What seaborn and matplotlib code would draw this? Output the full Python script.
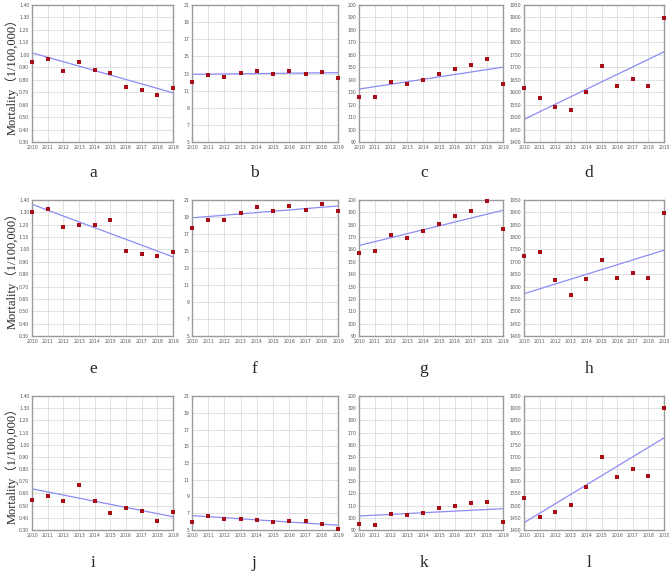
import numpy as np
import pandas as pd
import matplotlib
matplotlib.use("Agg")
import matplotlib.pyplot as plt
import seaborn as sns

years = list(range(2010, 2020))

mort_a = [0.94, 0.97, 0.87, 0.94, 0.88, 0.855, 0.74, 0.715, 0.675, 0.73]
mort_b = [12.0, 12.8, 12.6, 13.06, 13.3, 12.9, 13.25, 13.0, 13.2, 12.45]
mort_c = [126.1, 126.4, 137.8, 136.2, 139.9, 144.6, 148.8, 152.0, 156.5, 136.5]
mort_d = [1617, 1575, 1541, 1530, 1601, 1704, 1624, 1653, 1626, 1899]
mort_e = [1.303, 1.327, 1.178, 1.195, 1.195, 1.24, 0.986, 0.96, 0.95, 0.98]
mort_f = [17.75, 18.65, 18.65, 19.5, 20.18, 19.7, 20.25, 19.8, 20.5, 19.74]
mort_g = [156.8, 158.4, 171.9, 169.5, 174.6, 180.8, 187.3, 191.4, 198.9, 176.3]
mort_h = [1722, 1739, 1626, 1564, 1630, 1707, 1634, 1655, 1633, 1898]
mort_i = [0.543, 0.576, 0.535, 0.668, 0.535, 0.439, 0.48, 0.458, 0.374, 0.448]
mort_j = [5.96, 6.68, 6.28, 6.36, 6.24, 6.0, 6.08, 6.08, 5.76, 5.16]
mort_k = [95.2, 94.1, 102.9, 102.0, 104.2, 107.8, 109.7, 111.9, 113.3, 96.3]
mort_l = [1533, 1454, 1472, 1504, 1577, 1701, 1616, 1651, 1622, 1900]

# trend line values at 2010 and 2019
trend_years = [2010, 2019]
trend_a = [1.016, 0.695]
trend_b = [12.9, 13.1]
trend_c = [132.5, 150.1]
trend_d = [1491, 1762]
trend_e = [1.365, 0.94]
trend_f = [18.9, 20.3]
trend_g = [163.2, 191.7]
trend_h = [1571, 1747]
trend_i = [0.638, 0.409]
trend_j = [6.72, 5.57]
trend_k = [101.5, 107.5]
trend_l = [1430, 1778]

panel_letters = ["a", "b", "c", "d", "e", "f", "g", "h", "i", "j", "k", "l"]
mort = [mort_a, mort_b, mort_c, mort_d, mort_e, mort_f,
        mort_g, mort_h, mort_i, mort_j, mort_k, mort_l]
trends = [trend_a, trend_b, trend_c, trend_d, trend_e, trend_f,
          trend_g, trend_h, trend_i, trend_j, trend_k, trend_l]

# y axis setup per column
col_ylim = [(0.30, 1.40), (5, 21), (90, 200), (1400, 1950)]
col_ticks = [np.arange(0.30, 1.401, 0.10), np.arange(5, 22, 2),
             np.arange(90, 201, 10), np.arange(1400, 1951, 50)]
col_fmt = ["{:.2f}", "{:.0f}", "{:.0f}", "{:.0f}"]

sns.set_style("white")

W, H = 669, 572
fig = plt.figure(figsize=(W / 100, H / 100), dpi=100)

col_left = [32, 192, 359, 524]
col_right = [173, 338, 503, 664]
row_top = [5, 200, 396]
row_bottom = [142, 336, 530]
letter_x = [93, 254, 424, 589]
letter_y = [177, 373, 567]

serif = ["Liberation Serif", "Noto Sans CJK SC"]

for idx in range(12):
    r, c = divmod(idx, 4)
    l, rr = col_left[c], col_right[c]
    t, b = row_top[r], row_bottom[r]
    ax = fig.add_axes([l / W, 1 - b / H, (rr - l) / W, (b - t) / H])

    df = pd.DataFrame({"Year": years, "Mortality": mort[idx]})
    tr = pd.DataFrame({"Year": trend_years, "Mortality": trends[idx]})

    sns.lineplot(data=tr, x="Year", y="Mortality", ax=ax, color="#8c8cf5",
                 linewidth=0.9, zorder=2)
    sns.scatterplot(data=df, x="Year", y="Mortality", ax=ax, color="#a50f15",
                    marker="s", s=5, linewidth=0, zorder=3, clip_on=False)

    ax.set_xlim(2010, 2019)
    ax.set_ylim(*col_ylim[c])
    ax.set_xticks(years)
    ax.set_xticklabels([str(y) for y in years])
    ax.set_yticks(col_ticks[c])
    ax.set_yticklabels([col_fmt[c].format(v) for v in col_ticks[c]])
    ax.tick_params(axis="both", length=0, labelsize=3.3, pad=2, colors="#555555")
    ax.grid(True, color="#dcdcdc", linewidth=0.6)
    ax.set_axisbelow(True)
    for sp in ax.spines.values():
        sp.set_color("#9a9a9a")
        sp.set_linewidth(1.0)
    ax.set_xlabel("")
    ax.set_ylabel("")

    fig.text(letter_x[c] / W, 1 - letter_y[r] / H, panel_letters[idx],
             ha="center", va="baseline", fontsize=12.5, family=serif)

    if c == 0:
        fig.text(12 / W, 1 - ((t + b) / 2) / H, "Mortality（1/100,000）",
                 rotation=90, ha="center", va="center", fontsize=9, family=serif)

fig.savefig("out.png", dpi=100)
